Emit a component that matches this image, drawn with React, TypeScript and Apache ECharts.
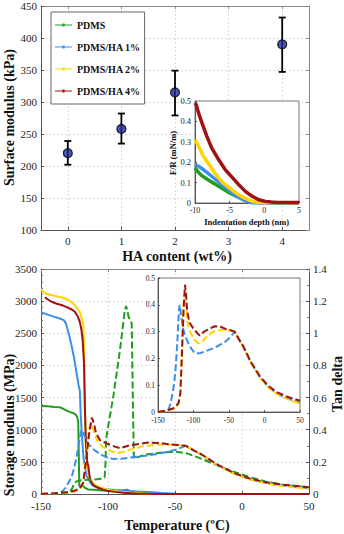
import React, { useEffect, useRef } from "react";
import * as echarts from "echarts";

// ---------- Top chart: surface modulus vs HA content ----------
const haTicks = [0, 1, 2, 3, 4];
const haX = [0, 1, 2, 4];
const modulusMean = [220, 258, 315, 390];
const modulusLow = [202, 235, 279, 347];
const modulusHigh = [239, 282, 349, 432];

// ---------- Top inset: F/R vs indentation depth ----------
const frPdms = [[-10, 0.172], [-9.5, 0.15], [-9, 0.134], [-8.4, 0.12], [-7.8, 0.107], [-7.2, 0.095], [-6.6, 0.082], [-6, 0.07], [-5.4, 0.057], [-4.8, 0.046], [-4.2, 0.036], [-3.6, 0.026], [-3, 0.016], [-2.5, 0.01], [-2, 0.005], [-1.5, 0.002], [-1, 0.001], [0, 0], [5, 0]];
const frHa1 = [[-10, 0.19], [-9.4, 0.178], [-8.8, 0.164], [-8.2, 0.148], [-7.6, 0.131], [-7, 0.114], [-6.4, 0.098], [-5.8, 0.082], [-5.2, 0.066], [-4.6, 0.05], [-4, 0.036], [-3.5, 0.026], [-3, 0.016], [-2.5, 0.008], [-2, 0.003], [-1.5, 0.001], [0, 0], [5, 0]];
const frHa2 = [[-10, 0.31], [-9.5, 0.28], [-9.1, 0.25], [-8.8, 0.23], [-8.4, 0.21], [-8, 0.19], [-7.5, 0.165], [-7, 0.14], [-6.5, 0.12], [-6, 0.1], [-5.3, 0.082], [-4.7, 0.066], [-4.1, 0.05], [-3.5, 0.036], [-2.9, 0.025], [-2.3, 0.016], [-1.8, 0.009], [-1.3, 0.005], [-0.8, 0.002], [0, 0.001], [5, 0.001]];
const frHa4 = [[-10, 0.49], [-9.85, 0.484], [-9.5, 0.443], [-9, 0.393], [-8.3, 0.328], [-7.6, 0.27], [-6.6, 0.213], [-5.65, 0.164], [-4.7, 0.128], [-3.7, 0.09], [-2.74, 0.057], [-1.77, 0.033], [-0.8, 0.016], [0.16, 0.008], [1, 0.005], [1.85, 0.003], [5, 0.003]];

// ---------- Bottom chart: storage modulus (MPa) vs temperature ----------
const eStorePdms = [[-150, 1370], [-145, 1365], [-140, 1355], [-136, 1350], [-133, 1320], [-130, 1290], [-127, 1265], [-124.6, 1245], [-123, 1200], [-122.2, 1110], [-121.8, 600], [-121.4, 120], [-120, 125], [-119, 130], [-117.5, 100], [-114.7, 70], [-110, 65], [-106, 60], [-98.5, 45], [-90, 50], [-86, 68], [-83, 45], [-81, 25], [-75, 12], [-68, 5], [-60, 2], [-50, 0], [50, 0]];
const eStoreHa1 = [[-150, 2830], [-145, 2790], [-140, 2755], [-136, 2730], [-133, 2705], [-131.3, 2650], [-129, 2470], [-127, 2290], [-125, 2080], [-123.4, 1870], [-122, 1700], [-121, 1600], [-120.5, 1300], [-119.6, 950], [-118.4, 580], [-116, 280], [-113, 170], [-111, 125], [-106, 95], [-101, 73], [-95, 62], [-86, 52], [-78, 40], [-69, 31], [-60, 15], [-50, 5], [-40, 0], [50, 0]];
const eStoreHa2 = [[-150, 3180], [-147, 3120], [-141, 3089], [-133.4, 3053], [-129, 3010], [-125.9, 2960], [-123, 2890], [-121, 2830], [-119.5, 2720], [-118.4, 2650], [-117.8, 2200], [-117.2, 1400], [-116.6, 700], [-115.5, 400], [-114, 260], [-111, 160], [-107, 110], [-101, 70], [-95, 45], [-88, 28], [-80, 14], [-70, 5], [-60, 0], [50, 0]];
const eStoreHa4 = [[-147, 3060], [-145.7, 3037], [-142, 2990], [-138.3, 2960], [-134, 2935], [-130.8, 2907], [-127, 2870], [-124.6, 2830], [-122.5, 2760], [-121, 2674], [-119.8, 2550], [-118.9, 2390], [-117.9, 2028], [-117.2, 1300], [-116.5, 800], [-115.5, 500], [-114.6, 427], [-113.4, 219], [-111, 140], [-108.4, 105], [-104, 70], [-101, 52], [-95, 33], [-88.6, 20], [-80, 8], [-70, 3], [-60, 0], [50, 0]];

// ---------- Tan delta vs temperature ----------
const tanPdms = [[-150, 0], [-135, 0], [-130, 0.005], [-127, 0.03], [-125, 0.07], [-123, 0.08], [-120, 0.085], [-115, 0.088], [-110, 0.09], [-105, 0.095], [-102.5, 0.104], [-101.8, 0.2], [-101.5, 0.34], [-96, 0.61], [-91, 0.9], [-87.5, 1.14], [-86.5, 1.17], [-84.5, 1.1], [-82.3, 1.06], [-81.5, 0.6], [-80.7, 0.22], [-78, 0.228], [-73.6, 0.243], [-61, 0.257], [-49, 0.263], [-41, 0.253], [-31, 0.222], [-19, 0.18], [-6.5, 0.139], [6, 0.104], [18, 0.077], [31, 0.056], [50, 0.042]];
const tanHa1 = [[-150, 0], [-140, 0.003], [-135, 0.01], [-132, 0.035], [-129.5, 0.07], [-127, 0.11], [-125, 0.17], [-123, 0.25], [-121.5, 0.33], [-120.3, 0.385], [-119.4, 0.4], [-117.5, 0.36], [-115, 0.315], [-112, 0.285], [-108, 0.26], [-104, 0.24], [-100, 0.226], [-96, 0.218], [-90, 0.22], [-82, 0.228], [-72, 0.238], [-63, 0.25], [-55, 0.263], [-49, 0.277], [-45, 0.29], [-42, 0.3], [-36, 0.27], [-30, 0.243], [-19, 0.183], [-6, 0.128], [6, 0.092], [18, 0.068], [31, 0.052], [50, 0.034]];
const tanHa2 = [[-150, 0], [-140, 0.005], [-130, 0.01], [-125, 0.015], [-121, 0.03], [-118.5, 0.07], [-116.5, 0.22], [-114.5, 0.38], [-113, 0.44], [-111, 0.4], [-108, 0.33], [-104, 0.295], [-98, 0.268], [-93, 0.256], [-88, 0.262], [-80, 0.285], [-72, 0.3], [-62, 0.306], [-52, 0.307], [-45, 0.302], [-42, 0.3], [-36, 0.27], [-30, 0.243], [-19, 0.182], [-6, 0.126], [6, 0.09], [18, 0.066], [31, 0.049], [50, 0.031]];
const tanHa4 = [[-150, 0], [-140, 0.005], [-130, 0.012], [-125, 0.02], [-121, 0.035], [-118.5, 0.07], [-116.5, 0.2], [-114, 0.38], [-112, 0.475], [-110.5, 0.44], [-109, 0.38], [-106, 0.335], [-101, 0.315], [-95, 0.295], [-91, 0.285], [-85, 0.3], [-78, 0.31], [-70, 0.32], [-62, 0.318], [-55, 0.31], [-48, 0.305], [-42, 0.3], [-36, 0.272], [-30, 0.246], [-19, 0.186], [-6, 0.131], [6, 0.096], [18, 0.073], [31, 0.058], [50, 0.042]];

const seriesNames = ["PDMS", "PDMS/HA 1%", "PDMS/HA 2%", "PDMS/HA 4%"];
const colors = ["#1f9e1f", "#3a8ff0", "#ffd400", "#9e1212"];

const FONT = "'Liberation Serif', 'Times New Roman', serif";

export default function App() {
  const ref = useRef<HTMLDivElement>(null);
  useEffect(() => {
    if (!ref.current) return;
    const chart = echarts.init(ref.current, null, { renderer: "svg" });

    const axisLine = { show: true, onZero: false, lineStyle: { color: "#555", width: 1 } };
    const frameLine = { show: true, onZero: false, lineStyle: { color: "#888", width: 1 } };
    const grid = { show: true, lineStyle: { color: "#dadada", width: 1, type: [2, 2] } };
    const plain = (v: number) => String(v);
    const lbl = (size: number, margin: number) => ({ fontFamily: FONT, fontSize: size, color: "#222", margin, formatter: plain });

    const frSets = [frPdms, frHa1, frHa2, frHa4];
    const eSets = [eStorePdms, eStoreHa1, eStoreHa2, eStoreHa4];
    const tanSets = [tanPdms, tanHa1, tanHa2, tanHa4];

    const series: any[] = [];
    series.push({
      type: "custom",
      xAxisIndex: 0,
      yAxisIndex: 0,
      z: 3,
      encode: { x: 0, y: [1, 2] },
      data: haX.map((x, i) => [x, modulusLow[i], modulusHigh[i]]),
      renderItem: (params: any, api: any) => {
        const x = api.value(0);
        const top = api.coord([x, api.value(2)]);
        const bot = api.coord([x, api.value(1)]);
        const cap = 3.5;
        const st = { stroke: "#000", lineWidth: 1.8 };
        return {
          type: "group",
          children: [
            { type: "line", shape: { x1: top[0], y1: top[1], x2: bot[0], y2: bot[1] }, style: st },
            { type: "line", shape: { x1: top[0] - cap, y1: top[1], x2: top[0] + cap, y2: top[1] }, style: st },
            { type: "line", shape: { x1: bot[0] - cap, y1: bot[1], x2: bot[0] + cap, y2: bot[1] }, style: st },
          ],
        };
      },
    });
    series.push({
      type: "scatter",
      xAxisIndex: 0,
      yAxisIndex: 0,
      z: 4,
      symbol: "circle",
      symbolSize: 9,
      itemStyle: { color: "#1b2a9a", borderColor: "#000", borderWidth: 1.2 },
      data: haX.map((x, i) => [x, modulusMean[i]]),
    });
    frSets.forEach((d, i) => {
      series.push({
        name: seriesNames[i],
        type: "line",
        xAxisIndex: 2,
        yAxisIndex: 2,
        showSymbol: false,
        color: colors[i],
        lineStyle: { width: 3.5, color: colors[i] },
        data: d,
        z: 5,
      });
    });
    eSets.forEach((d, i) => {
      series.push({
        name: seriesNames[i] + " E'",
        type: "line",
        xAxisIndex: 3,
        yAxisIndex: 3,
        showSymbol: false,
        color: colors[i],
        lineStyle: { width: 2, color: colors[i] },
        data: d,
        z: 2 + i * 0.1,
      });
    });
    tanSets.forEach((d, i) => {
      series.push({
        name: seriesNames[i] + " tan",
        type: "line",
        xAxisIndex: 3,
        yAxisIndex: 4,
        showSymbol: false,
        color: colors[i],
        lineStyle: { width: 2, color: colors[i], type: [7, 3] },
        data: d,
        z: 2.5 + i * 0.1,
      });
    });
    [1, 2, 3].forEach((i) => {
      series.push({
        name: seriesNames[i] + " tan inset",
        type: "line",
        xAxisIndex: 5,
        yAxisIndex: 5,
        showSymbol: false,
        color: colors[i],
        lineStyle: { width: 2, color: colors[i], type: [7, 3] },
        data: tanSets[i],
        z: 5,
      });
    });

    const option: any = {
      animation: false,
      backgroundColor: "#fff",
      textStyle: { fontFamily: FONT },
      grid: [
        { left: 41, top: 6, width: 268, height: 224, show: false },
        { left: 195, top: 101, width: 104, height: 102, show: true, backgroundColor: "#fff", borderColor: "#777", borderWidth: 1, z: 1 },
        { left: 41, top: 269, width: 268, height: 225, show: false },
        { left: 158, top: 278, width: 142, height: 134, show: true, backgroundColor: "#fff", borderColor: "#777", borderWidth: 1, z: 1 },
      ],
      legend: {
        data: seriesNames,
        orient: "vertical",
        left: 51,
        top: 12,
        padding: [8, 4, 8, 4],
        itemGap: 12,
        itemWidth: 17,
        itemHeight: 10,
        symbolKeepAspect: true,
        icon: "path://M0,4.4L17,4.4L17,5.6L0,5.6Z M7.4,3.4L9.6,3.4L9.6,6.6L7.4,6.6Z",
        borderColor: "#666",
        borderWidth: 1,
        backgroundColor: "#fff",
        textStyle: { fontFamily: FONT, fontSize: 10, fontWeight: "bold", color: "#111" },
        z: 6,
      },
      xAxis: [
        {
          gridIndex: 0, type: "value", min: -0.5, max: 4.5, position: "bottom",
          axisLine, axisTick: { show: true, inside: true, length: 3, customValues: haTicks },
          axisLabel: { ...lbl(11, 5), customValues: haTicks },
          splitLine: { ...grid, customValues: haTicks },
        },
        {
          gridIndex: 0, type: "value", min: -0.5, max: 4.5, position: "top",
          axisLine: frameLine, axisTick: { show: true, inside: true, length: 3, customValues: haTicks },
          axisLabel: { show: false }, splitLine: { show: false },
        },
        {
          gridIndex: 1, type: "value", min: -10, max: 5, interval: 5, position: "bottom", z: 3,
          axisLine, axisTick: { show: true, inside: true, length: 2 },
          axisLabel: lbl(8, 3), splitLine: { show: false },
        },
        {
          gridIndex: 2, type: "value", min: -150, max: 50, interval: 50, position: "bottom",
          axisLine, axisTick: { show: true, inside: true, length: 3 },
          axisLabel: lbl(11, 6), splitLine: grid,
        },
        {
          gridIndex: 2, type: "value", min: -150, max: 50, interval: 50, position: "top",
          axisLine: frameLine, axisTick: { show: true, inside: true, length: 3 },
          axisLabel: { show: false }, splitLine: { show: false },
        },
        {
          gridIndex: 3, type: "value", min: -150, max: 50, interval: 50, position: "bottom", z: 3,
          axisLine, axisTick: { show: true, inside: true, length: 2 },
          axisLabel: lbl(7.5, 4), splitLine: { show: false },
        },
      ],
      yAxis: [
        {
          gridIndex: 0, type: "value", min: 100, max: 450, interval: 50, position: "left",
          axisLine, axisTick: { show: true, inside: true, length: 3 },
          axisLabel: lbl(11, 4), splitLine: grid,
        },
        {
          gridIndex: 0, type: "value", min: 100, max: 450, interval: 50, position: "right",
          axisLine: frameLine, axisTick: { show: true, inside: true, length: 3 },
          axisLabel: { show: false }, splitLine: { show: false },
        },
        {
          gridIndex: 1, type: "value", min: 0, max: 0.5, interval: 0.1, position: "left", z: 3,
          axisLine, axisTick: { show: true, inside: true, length: 2 },
          axisLabel: lbl(8.5, 4), splitLine: { show: false },
        },
        {
          gridIndex: 2, type: "value", min: 0, max: 3500, interval: 500, position: "left",
          axisLine, axisTick: { show: true, inside: true, length: 3 },
          minorTick: { show: true, splitNumber: 5, length: 2, lineStyle: { color: "#777" } },
          axisLabel: lbl(11, 4), splitLine: grid,
        },
        {
          gridIndex: 2, type: "value", min: 0, max: 1.4, interval: 0.2, position: "right",
          axisLine, axisTick: { show: true, inside: true, length: 3 },
          minorTick: { show: true, splitNumber: 2, length: 2, lineStyle: { color: "#777" } },
          axisLabel: lbl(11, 4), splitLine: { show: false },
        },
        {
          gridIndex: 3, type: "value", min: 0, max: 0.5, interval: 0.1, position: "left", z: 3,
          axisLine, axisTick: { show: true, inside: true, length: 2 },
          axisLabel: lbl(7.5, 3), splitLine: { show: false },
        },
      ],
      graphic: [
        { type: "text", x: 9, y: 117.5, rotation: Math.PI / 2, z: 10, style: { text: "Surface modulus (kPa)", fontFamily: FONT, fontSize: 14, fontWeight: "bold", fill: "#111", align: "center", verticalAlign: "middle" } },
        { type: "text", x: 177, y: 256.5, z: 10, style: { text: "HA content (wt%)", fontFamily: FONT, fontSize: 14, fontWeight: "bold", fill: "#111", align: "center", verticalAlign: "middle" } },
        { type: "text", x: 173, y: 153, rotation: Math.PI / 2, z: 10, style: { text: "F/R (mN/m)", fontFamily: FONT, fontSize: 8.5, fontWeight: "bold", fill: "#111", align: "center", verticalAlign: "middle" } },
        { type: "text", x: 246.7, y: 222, z: 10, style: { text: "Indentation depth (nm)", fontFamily: FONT, fontSize: 8.5, fontWeight: "bold", fill: "#111", align: "center", verticalAlign: "middle" } },
        { type: "text", x: 9, y: 425, rotation: Math.PI / 2, z: 10, style: { text: "Storage modulus (MPa)", fontFamily: FONT, fontSize: 14, fontWeight: "bold", fill: "#111", align: "center", verticalAlign: "middle" } },
        { type: "text", x: 337, y: 384, rotation: Math.PI / 2, z: 10, style: { text: "Tan delta", fontFamily: FONT, fontSize: 14, fontWeight: "bold", fill: "#111", align: "center", verticalAlign: "middle" } },
        { type: "text", x: 177, y: 525, z: 10, style: { text: "Temperature (ºC)", fontFamily: FONT, fontSize: 14, fontWeight: "bold", fill: "#111", align: "center", verticalAlign: "middle" } },
      ],
      series,
    };
    chart.setOption(option);
    return () => chart.dispose();
  }, []);

  return <div ref={ref} style={{ position: "fixed", left: 0, top: 0, width: 344, height: 534, background: "#fff" }} />;
}
